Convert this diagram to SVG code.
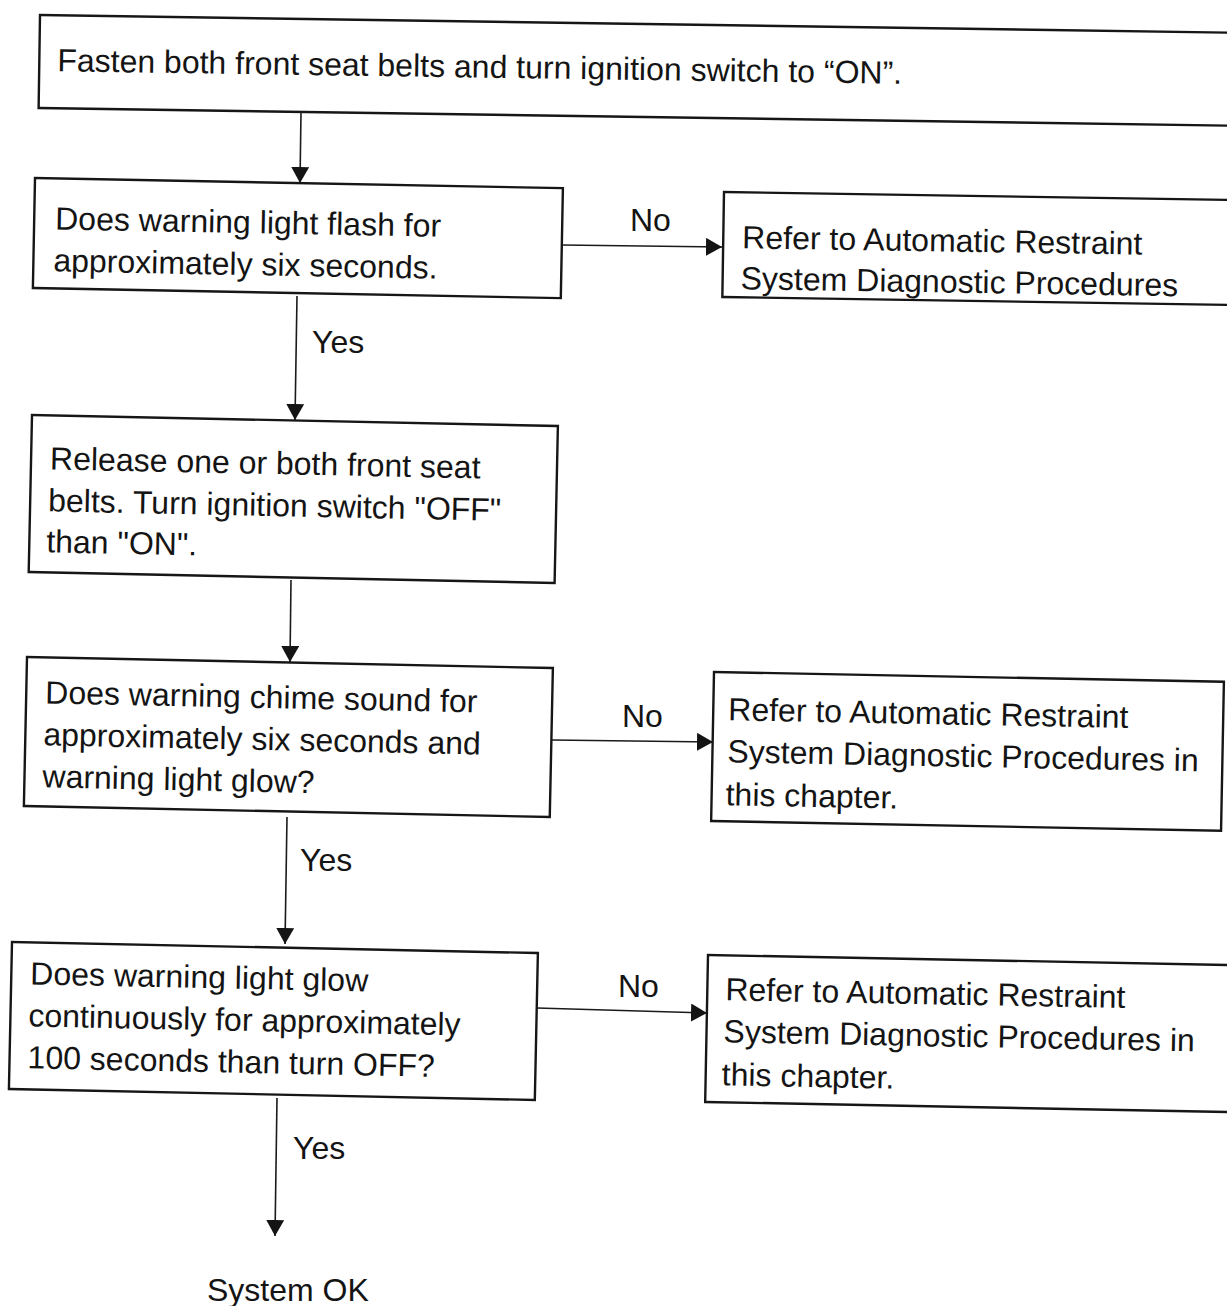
<svg xmlns="http://www.w3.org/2000/svg" width="1227" height="1306" viewBox="0 0 1227 1306">
<defs>
<style>
.box{fill:#fff;stroke:#161616;stroke-width:2.4}
.t{font-family:"Liberation Sans",Arial,Helvetica,sans-serif;font-size:32px;fill:#141414}
.c{fill:none;stroke:#1a1a1a;stroke-width:1.6}
</style>
<marker id="ah" viewBox="0 0 16 18" markerUnits="userSpaceOnUse" markerWidth="16" markerHeight="18" refX="16" refY="9" orient="auto">
<path d="M0,0 L16,9 L0,18 z" fill="#141414"/>
</marker>
</defs>
<rect width="1227" height="1306" fill="#fff"/>

<g id="n1" transform="translate(40,15) rotate(0.85)">
<rect class="box" x="0" y="0" width="1250" height="93"/>
<text class="t" x="18" y="56">Fasten both front seat belts and turn ignition switch to “ON”.</text>
</g>

<g id="n2" transform="translate(35,178) rotate(1.1)">
<rect class="box" x="0" y="0" width="528" height="110"/>
<text class="t" x="21" y="51">Does warning light flash for</text>
<text class="t" x="20" y="93">approximately six seconds.</text>
</g>

<g id="r1" transform="translate(724,192) rotate(0.9)">
<rect class="box" x="0" y="0" width="600" height="105"/>
<text class="t" x="19" y="56">Refer to Automatic Restraint</text>
<text class="t" x="18" y="97">System Diagnostic Procedures</text>
</g>

<g id="n3" transform="translate(32,415) rotate(1.2)">
<rect class="box" x="0" y="0" width="526" height="157"/>
<text class="t" x="19" y="54">Release one or both front seat</text>
<text class="t" x="18" y="96">belts. Turn ignition switch "OFF"</text>
<text class="t" x="17" y="137">than "ON".</text>
</g>

<g id="n4" transform="translate(27,657) rotate(1.2)">
<rect class="box" x="0" y="0" width="526" height="149"/>
<text class="t" x="19" y="46">Does warning chime sound for</text>
<text class="t" x="18" y="88">approximately six seconds and</text>
<text class="t" x="18" y="130">warning light glow?</text>
</g>

<g id="r2" transform="translate(714,672) rotate(1.1)">
<rect class="box" x="0" y="0" width="510" height="149"/>
<text class="t" x="15" y="48">Refer to Automatic Restraint</text>
<text class="t" x="15" y="90">System Diagnostic Procedures in</text>
<text class="t" x="14" y="133">this chapter.</text>
</g>

<g id="n5" transform="translate(12,942) rotate(1.2)">
<rect class="box" x="0" y="0" width="526" height="147"/>
<text class="t" x="19" y="42">Does warning light glow</text>
<text class="t" x="18" y="84">continuously for approximately</text>
<text class="t" x="18" y="126">100 seconds than turn OFF?</text>
</g>

<g id="r3" transform="translate(708,955) rotate(1.1)">
<rect class="box" x="0" y="0" width="540" height="147"/>
<text class="t" x="18" y="45">Refer to Automatic Restraint</text>
<text class="t" x="17" y="87">System Diagnostic Procedures in</text>
<text class="t" x="16" y="130">this chapter.</text>
</g>

<g id="end">
<text class="t" x="207" y="1301">System OK</text>
</g>

<g id="connectors">
<path class="c" d="M301,112 L300,183" marker-end="url(#ah)"/>
<path class="c" d="M297,296 L295,420" marker-end="url(#ah)"/>
<path class="c" d="M291,580 L290,662" marker-end="url(#ah)"/>
<path class="c" d="M287,817 L285,944" marker-end="url(#ah)"/>
<path class="c" d="M277,1098 L275,1236" marker-end="url(#ah)"/>
<path class="c" d="M562,245 L722,247" marker-end="url(#ah)"/>
<path class="c" d="M552,740 L713,742" marker-end="url(#ah)"/>
<path class="c" d="M537,1008 L707,1013" marker-end="url(#ah)"/>
<text class="t" x="630" y="231">No</text>
<text class="t" x="622" y="727">No</text>
<text class="t" x="618" y="997">No</text>
<text class="t" x="312" y="353">Yes</text>
<text class="t" x="300" y="871">Yes</text>
<text class="t" x="293" y="1159">Yes</text>
</g>
</svg>
